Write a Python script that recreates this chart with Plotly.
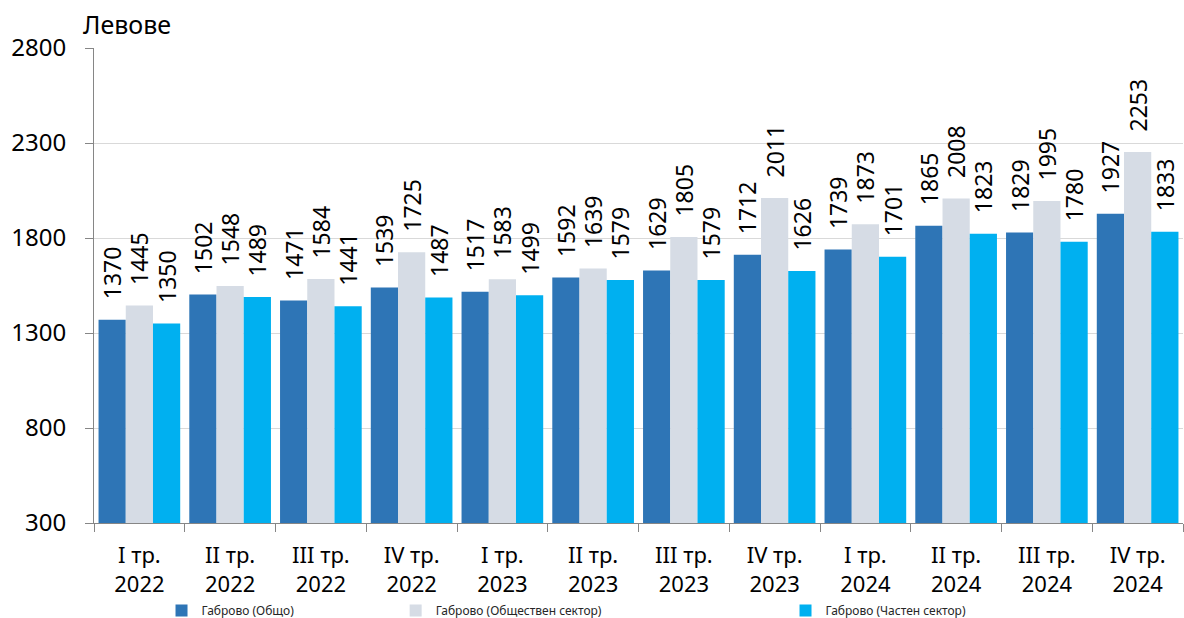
import plotly.graph_objects as go

categories = ["I тр.<br>2022", "II тр.<br>2022", "III тр.<br>2022", "IV тр.<br>2022",
              "I тр.<br>2023", "II тр.<br>2023", "III тр.<br>2023", "IV тр.<br>2023",
              "I тр.<br>2024", "II тр.<br>2024", "III тр.<br>2024", "IV тр.<br>2024"]
total = [1370, 1502, 1471, 1539, 1517, 1592, 1629, 1712, 1739, 1865, 1829, 1927]
public = [1445, 1548, 1584, 1725, 1583, 1639, 1805, 2011, 1873, 2008, 1995, 2253]
private = [1350, 1489, 1441, 1487, 1499, 1579, 1579, 1626, 1701, 1823, 1780, 1833]
series_names = ["Габрово (Общо)", "Габрово (Обществен сектор)", "Габрово (Частен сектор)"]
colors = ["#2E75B6", "#D6DCE5", "#00B0F0"]
y_ticks = [300, 800, 1300, 1800, 2300, 2800]

FONT = "Noto Sans"
fig = go.Figure()
legends = ["legend", "legend2", "legend3"]
for name, vals, col, lg in zip(series_names, [total, public, private], colors, legends):
    fig.add_trace(go.Bar(
        x=categories, y=vals, name=name, marker=dict(color=col, line=dict(width=0)),
        text=[str(v) for v in vals], texttemplate="\u2002\u00a0%{text}",
        textposition="outside", textangle=-90,
        constraintext="none", cliponaxis=False,
        textfont=dict(family=FONT, size=23, color="#000000"),
        legend=lg, hoverinfo="x+y+name",
    ))

leg_common = dict(orientation="h", yanchor="middle", xanchor="left",
                  font=dict(family=FONT, size=12, color="#262626"),
                  bgcolor="rgba(0,0,0,0)", borderwidth=0, tracegroupgap=0)

fig.update_layout(
    width=1184, height=618,
    margin=dict(l=94, r=1, t=48, b=95, autoexpand=False),
    paper_bgcolor="white", plot_bgcolor="white",
    showlegend=True,
    barmode="group", bargap=0.1, bargroupgap=0,
    font=dict(family=FONT, color="#000000"),
    legend=dict(x=0.062, y=-0.184, **leg_common),
    legend2=dict(x=0.277, y=-0.184, **leg_common),
    legend3=dict(x=0.635, y=-0.184, **leg_common),
    xaxis=dict(
        type="category", showline=True, linecolor="#868686", linewidth=1,
        ticks="outside", tickson="boundaries", ticklen=8, tickcolor="#868686",
        tickfont=dict(family=FONT, size=22, color="#000000"), showgrid=False,
        automargin=False, ticklabelstandoff=13,
    ),
    yaxis=dict(
        range=[300, 2800], tickvals=y_ticks, showline=True, linecolor="#868686",
        linewidth=1, ticks="outside", ticklen=8, tickcolor="#868686",
        tickfont=dict(family=FONT, size=24, color="#000000"),
        showgrid=True, gridcolor="#D9D9D9", gridwidth=1, zeroline=False,
        ticklabelstandoff=14, automargin=False,
    ),
    annotations=[dict(text="Левове", xref="paper", yref="paper", x=-0.012, y=1.0,
                      xanchor="left", yanchor="bottom", yshift=5, showarrow=False,
                      font=dict(family=FONT, size=25, color="#000000"))],
)

fig.write_html("out.html", config={"displayModeBar": False},
               post_script="document.body.style.margin='0';document.body.style.padding='0';")
